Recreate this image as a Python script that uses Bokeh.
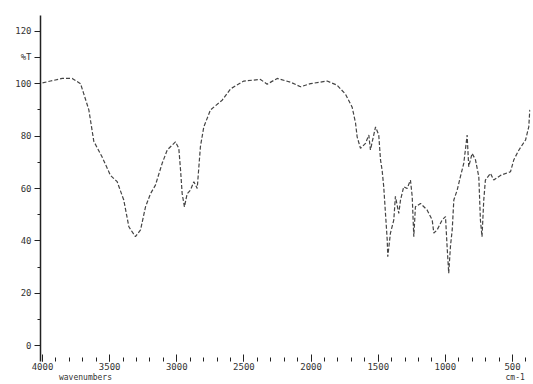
from bokeh.plotting import figure
from bokeh.models import Range1d, FixedTicker, LinearAxis
from bokeh.embed import file_html
from bokeh.resources import INLINE

# wavenumber (cm-1) and %T
wavenumber = [4000, 3940, 3853, 3779, 3717, 3692, 3655, 3618, 3556, 3494, 3444, 3395, 3357, 3308,
              3270, 3233, 3196, 3159, 3109, 3071, 3010, 2985, 2972, 2960, 2943, 2923, 2898, 2873,
              2848, 2824, 2799, 2749, 2662, 2600, 2501, 2377, 2327, 2252, 2150, 2079, 2004, 1880,
              1806, 1744, 1694, 1669, 1657, 1632, 1595, 1570, 1558, 1520, 1496, 1483, 1471, 1459,
              1446, 1433, 1429, 1409, 1384, 1372, 1347, 1334, 1310, 1285, 1260, 1247, 1235, 1223,
              1185, 1136, 1098, 1086, 1061, 1024, 999, 987, 975, 962, 949, 937, 912, 888, 863, 851,
              838, 826, 801, 776, 751, 739, 727, 714, 702, 664, 640, 590, 515, 490, 452, 403, 379, 371]
transmittance = [100.3, 101, 102, 102, 100, 96, 90, 78, 72, 65, 62.6, 55.6, 45.4, 41.6,
                 44.2, 53, 58, 61.3, 69.6, 74.7, 77.8, 75.3, 67, 58, 53, 58, 59.4, 62.6,
                 60, 76, 83.5, 90, 93.7, 98, 101, 101.6, 99.8, 102, 100.5, 98.8, 100, 101,
                 99.4, 96, 91, 85, 79.7, 75.3, 77.2, 80.4, 74.7, 83.5, 80.4, 70.9, 67, 60.7,
                 50.5, 40.4, 34, 43, 48, 57, 50.5, 55.6, 60.7, 60, 63.2, 57, 41.6, 53,
                 54.3, 51.8, 48, 43, 44.2, 48, 49.3, 37.8, 27.7, 38, 44.2, 55.6, 59.4, 64.5, 69.6, 74.7,
                 80.4, 68.3, 73.4, 71, 64.5, 48, 41.6, 55.6, 63.2, 65.8, 63.2, 65, 66.4, 71, 74.7, 78.5, 83.5, 90]

x_ticks = [4000, 3500, 3000, 2500, 2000, 1500, 1000, 500]
y_ticks = [0, 20, 40, 60, 80, 100, 110, 120]
y_labels = {0: "0", 20: "20", 40: "40", 60: "60", 80: "80", 100: "100", 110: "%T", 120: "120"}
unit_ticks = [3680, 480]
unit_labels = {3680: "wavenumbers", 480: "cm-1"}

p = figure(width=533, height=384, output_backend="svg", toolbar_location=None,
           x_range=Range1d(4015, 366), y_range=Range1d(-6, 126),
           min_border_left=40, min_border_right=3, min_border_top=15, min_border_bottom=0)

p.line(wavenumber, transmittance, line_color="#444444", line_width=1.2, line_dash="4 2")

p.grid.visible = False
p.outline_line_color = None
p.background_fill_color = "white"
p.border_fill_color = "white"

xa = p.xaxis[0]
xa.ticker = FixedTicker(ticks=x_ticks, minor_ticks=list(range(400, 4001, 100)))
xa.axis_line_color = None
xa.major_tick_in = 7
xa.major_tick_out = 0
xa.minor_tick_in = 4
xa.minor_tick_out = 0
xa.major_tick_line_color = "#222222"
xa.minor_tick_line_color = "#222222"
xa.major_label_text_font = "DejaVu Sans Mono"
xa.major_label_text_font_size = "9px"
xa.major_label_text_color = "#333333"
xa.major_label_standoff = 1

ua = LinearAxis(ticker=FixedTicker(ticks=unit_ticks), major_label_overrides=unit_labels)
ua.axis_line_color = None
ua.major_tick_line_color = None
ua.minor_tick_line_color = None
ua.major_tick_in = 0
ua.major_tick_out = 0
ua.major_label_standoff = 0
ua.major_label_text_font = "DejaVu Sans Mono"
ua.major_label_text_font_size = "8px"
ua.major_label_text_color = "#333333"
p.add_layout(ua, "below")

ya = p.yaxis[0]
ya.ticker = FixedTicker(ticks=y_ticks, minor_ticks=list(range(0, 121, 10)))
ya.major_label_overrides = y_labels
ya.axis_line_color = "#222222"
ya.axis_line_width = 1.5
ya.major_tick_in = 0
ya.major_tick_out = 6
ya.minor_tick_in = 0
ya.minor_tick_out = 3
ya.major_tick_line_color = "#222222"
ya.minor_tick_line_color = "#222222"
ya.major_label_text_font = "DejaVu Sans Mono"
ya.major_label_text_font_size = "9px"
ya.major_label_text_color = "#333333"
ya.major_label_standoff = 3

open("out.html", "w").write(file_html(p, INLINE))
